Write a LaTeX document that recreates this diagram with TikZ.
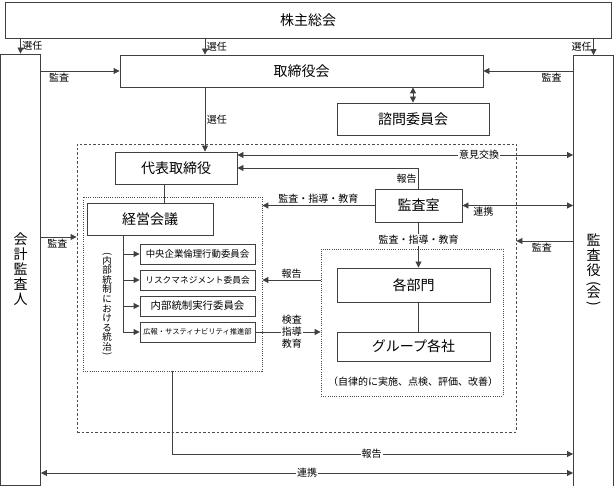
\documentclass[tikz,border=0pt]{standalone}
\usepackage{fontspec}
\usepackage{graphicx}
\setmainfont{Noto Sans CJK JP}
\usetikzlibrary{arrows.meta}

\newcommand{\tatekakko}{\rotatebox[origin=c]{-90}{(}}
\newcommand{\tatekakkot}{\rotatebox[origin=c]{-90}{)}}

\begin{document}
\begin{tikzpicture}[x=1pt,y=-1pt,
    box/.style={draw=black!75,line width=0.9pt,fill=white,inner sep=0pt,font=\fontsize{14}{15}\selectfont},
    iinbox/.style={draw=black!75,line width=0.9pt,fill=white,inner sep=0pt,minimum width=115,minimum height=20},
    dashwaku/.style={draw=black!70,line width=0.9pt,dash pattern=on 2.5pt off 2pt,inner sep=0pt},
    dotwaku/.style={draw=black!70,line width=0.8pt,dash pattern=on 1pt off 1.2pt,inner sep=0pt},
    lbl/.style={font=\fontsize{10}{11}\selectfont,inner sep=1.5pt},
    onl/.style={lbl,fill=white,inner sep=1pt},
    ln/.style={draw=black!75,line width=0.9pt},
    arr/.style={ln,-{Triangle[length=6pt,width=6pt]}},
    dbl/.style={ln,{Triangle[length=6pt,width=6pt]}-{Triangle[length=6pt,width=6pt]}}]
    \useasboundingbox (0,0) rectangle (614,486);

    % waku
    \node[dashwaku,minimum width=439,minimum height=288] (zentai) at (296.5,288) {};
    \node[dotwaku,minimum width=179,minimum height=174] (naibu) at (172.5,284) {};
    \node[dotwaku,minimum width=182,minimum height=147] (bumonwaku) at (412,322.5) {};

    \node[box,minimum width=606,minimum height=36] (kabu) at (308,20) {株主総会};
    \node[box,minimum width=40,minimum height=431,align=center] (kaikei) at (20.5,269.5) {会\\計\\監\\査\\人};
    \node[box,minimum width=40,minimum height=431,align=center] (kansayaku) at (593.5,271)
        {監\\査\\役\\[-3pt]\tatekakko\\[-5pt]会\\[-5pt]\tatekakkot};
    \node[box,minimum width=363,minimum height=32] (torishimari) at (301.5,71) {取締役会};
    \node[box,minimum width=152,minimum height=32] (shimon) at (413,119) {諮問委員会};
    \node[box,minimum width=122,minimum height=32] (daihyo) at (176,168) {代表取締役};
    \node[box,minimum width=87,minimum height=33] (kansashitsu) at (418.5,205.5) {監査室};
    \node[box,minimum width=126,minimum height=32] (keiei) at (150,219) {経営会議};
    \node[box,minimum width=153,minimum height=34] (kakubumon) at (413.5,285) {各部門};
    \node[box,minimum width=153,minimum height=29] (group) at (413.5,346.5) {グループ各社};
    \node[lbl] (jiritsu) at (413,382) {（自律的に実施、点検、評価、改善）};

    \node[iinbox,font=\fontsize{9.4}{10}\selectfont] (iin1) at (197.5,254) {中央企業倫理行動委員会};
    \node[iinbox,font=\fontsize{8.7}{10}\selectfont] (iin2) at (197.5,280) {リスクマネジメント委員会};
    \node[iinbox,font=\fontsize{10.4}{11}\selectfont] (iin3) at (197.5,306) {内部統制実行委員会};
    \node[iinbox,font=\fontsize{7.3}{8}\selectfont] (iin4) at (197.5,332) {広報・サスティナビリティ推進部};
    \node[align=center,inner sep=0pt,font=\fontsize{9.5}{9.6}\selectfont] (tochi) at (107,305)
        {\tatekakko\\[-3pt]内\\部\\統\\制\\に\\お\\け\\る\\統\\治\\[-3pt]\tatekakkot};

    % sennin
    \draw[arr] (kabu.south -| kaikei.north) -- (kaikei.north) node[lbl,midway,right] {選任};
    \draw[arr] (kabu.south -| 205,0) -- (torishimari.north -| 205,0) node[lbl,midway,right] {選任};
    \draw[arr] (kabu.south -| kansayaku.north) -- (kansayaku.north) node[lbl,midway,left] {選任};
    \draw[arr] (torishimari.south -| 205,0) -- (daihyo.north -| 205,0) node[lbl,midway,right] {選任};

    % kansa
    \draw[arr] (kaikei.east |- torishimari.west) -- (torishimari.west) node[lbl,pos=0.23,below] {監査};
    \draw[arr] (kansayaku.west |- torishimari.east) -- (torishimari.east) node[lbl,pos=0.24,below] {監査};
    \draw[dbl] (torishimari.south -| shimon.north) -- (shimon.north);
    \draw[arr] (kaikei.east |- 0,237) -- (zentai.west |- 0,237) node[lbl,pos=0.46,below] {監査};
    \draw[arr] (kansayaku.west |- 0,241) -- (zentai.east |- 0,241) node[lbl,pos=0.55,below] {監査};

    \draw[dbl] (daihyo.east |- 0,155) -- (kansayaku.west |- 0,155) node[onl,pos=0.72] {意見交換};
    \draw[arr] (kansashitsu.north) |- (daihyo.east) node[lbl,pos=0.25,left] {報告};
    \draw[arr] (kansashitsu.west) -- (naibu.east |- kansashitsu.west) node[lbl,midway,above] {監査・指導・教育};
    \draw[dbl] (kansashitsu.east) -- (kansayaku.west |- kansashitsu.east) node[lbl,pos=0.19,below] {連携};
    \draw[arr] (kansashitsu.south) -- (kakubumon.north -| kansashitsu.south) node[onl,pos=0.39] {監査・指導・教育};

    % keiei kaigi
    \draw[ln] (daihyo.south -| 164,0) -- (keiei.north -| 164,0);
    \draw[ln] (keiei.south -| 123,0) -- (iin4.west -| 123,0);
    \foreach \n in {1,...,4}
        \draw[arr] (iin\n.west -| 123,0) -- (iin\n.west);

    \draw[arr] (bumonwaku.west |- 0,280) -- (naibu.east |- 0,280) node[lbl,midway,above] {報告};
    \draw[arr] (iin4.east) -- (bumonwaku.west |- iin4.east)
        node[onl,pos=0.56,align=center,font=\fontsize{10}{12}\selectfont] {検査\\指導\\教育};
    \draw[ln] (kakubumon.south -| kansashitsu.south) -- (group.north -| kansashitsu.south);

    % shita
    \draw[arr] (naibu.south -| 172,0) |- (kansayaku.west |- 0,454) node[onl,pos=0.749] {報告};
    \draw[dbl] (kaikei.east |- 0,473) -- (kansayaku.west |- 0,473) node[onl,midway] {連携};
\end{tikzpicture}
\end{document}
